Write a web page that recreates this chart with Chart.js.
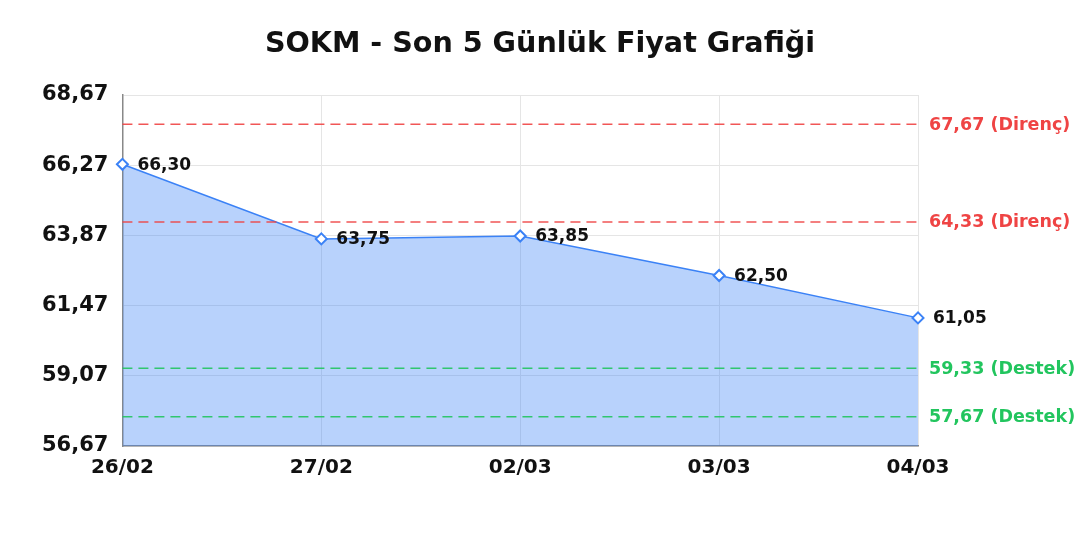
<!DOCTYPE html>
<html>
<head>
<meta charset="utf-8">
<script src="https://cdn.jsdelivr.net/npm/chart.js@4"></script>
<style>
  html, body { margin: 0; padding: 0; background: #fff; }
  #wrap { width: 1080px; height: 540px; }
</style>
</head>
<body>
<div id="wrap"><canvas id="priceChart"></canvas></div>
<script>
// chart data
const days = ['26/02', '27/02', '02/03', '03/03', '04/03'];
const prices = [66.30, 63.75, 63.85, 62.50, 61.05];
const yTicks = [56.67, 59.07, 61.47, 63.87, 66.27, 68.67];
const resistance = [67.67, 64.33];
const support = [59.33, 57.67];
const chartTitle = 'SOKM - Son 5 Günlük Fiyat Grafiği';

Chart.defaults.font.family = '"DejaVu Sans", Verdana, sans-serif';
Chart.defaults.color = '#111';

const fmt = v => v.toFixed(2).replace('.', ',');

// title centred on the whole canvas
const canvasTitle = {
    id: 'canvasTitle',
    afterDraw(chart) {
        const ctx = chart.ctx;
        ctx.save();
        ctx.fillStyle = '#111';
        ctx.font = 'bold 28.6px "DejaVu Sans"';
        ctx.textAlign = 'center';
        ctx.textBaseline = 'middle';
        ctx.fillText(chartTitle, chart.width / 2, 45);
        ctx.restore();
    }
};

// dashed support / resistance lines with labels on the right
const levelLines = {
    id: 'levelLines',
    afterDatasetsDraw(chart) {
        const ctx = chart.ctx;
        const area = chart.chartArea;
        const y = chart.scales.y;
        const levels = resistance.map(v => ({ v: v, c: '#ef4444', t: ' (Direnç)' }))
            .concat(support.map(v => ({ v: v, c: '#22c55e', t: ' (Destek)' })));
        ctx.save();
        levels.forEach(l => {
            const py = y.getPixelForValue(l.v);
            ctx.strokeStyle = l.c;
            ctx.globalAlpha = 0.9;
            ctx.lineWidth = 1.5;
            ctx.setLineDash([10, 6]);
            ctx.beginPath();
            ctx.moveTo(area.left, py);
            ctx.lineTo(area.right, py);
            ctx.stroke();
            ctx.globalAlpha = 1;
            ctx.setLineDash([]);
            ctx.fillStyle = l.c;
            ctx.font = 'bold 17.5px "DejaVu Sans"';
            ctx.textAlign = 'left';
            ctx.textBaseline = 'middle';
            ctx.fillText(fmt(l.v) + l.t, area.right + 11, py + 1);
        });
        ctx.restore();
    }
};

// value labels next to each point
const pointLabels = {
    id: 'pointLabels',
    afterDatasetsDraw(chart) {
        const ctx = chart.ctx;
        const meta = chart.getDatasetMeta(0);
        ctx.save();
        ctx.fillStyle = '#111';
        ctx.font = 'bold 17px "DejaVu Sans"';
        ctx.textAlign = 'left';
        ctx.textBaseline = 'middle';
        meta.data.forEach((pt, i) => {
            ctx.fillText(fmt(prices[i]), pt.x + 15, pt.y + 1);
        });
        ctx.restore();
    }
};

new Chart(document.getElementById('priceChart'), {
    type: 'line',
    data: {
        labels: days,
        datasets: [{
            data: prices,
            borderColor: '#3b82f6',
            backgroundColor: 'rgba(59,130,246,0.36)',
            borderWidth: 1.5,
            fill: 'start',
            tension: 0,
            pointStyle: 'rectRot',
            pointRadius: 5.5,
            pointBorderWidth: 2,
            pointBackgroundColor: '#fff',
            pointBorderColor: '#3b82f6'
        }]
    },
    options: {
        responsive: true,
        maintainAspectRatio: false,
        animation: false,
        layout: { padding: { left: 28, right: 162, top: 95, bottom: 50 } },
        plugins: {
            legend: { display: false },
            tooltip: { enabled: false },
            title: { display: false }
        },
        scales: {
            x: {
                offset: false,
                grid: { color: '#e5e5e5', tickLength: 0 },
                border: { color: '#888', width: 1.5 },
                ticks: { font: { size: 20, weight: 'bold' }, color: '#111', padding: 10, maxRotation: 0 }
            },
            y: {
                min: 56.67,
                max: 68.67,
                afterBuildTicks: axis => { axis.ticks = yTicks.map(v => ({ value: v })); },
                grid: { color: '#e5e5e5', tickLength: 0 },
                border: { color: '#888', width: 1.5 },
                ticks: { font: { size: 21, weight: 'bold' }, color: '#111', padding: 14, callback: v => fmt(v) }
            }
        }
    },
    plugins: [levelLines, pointLabels, canvasTitle]
});
</script>
</body>
</html>
